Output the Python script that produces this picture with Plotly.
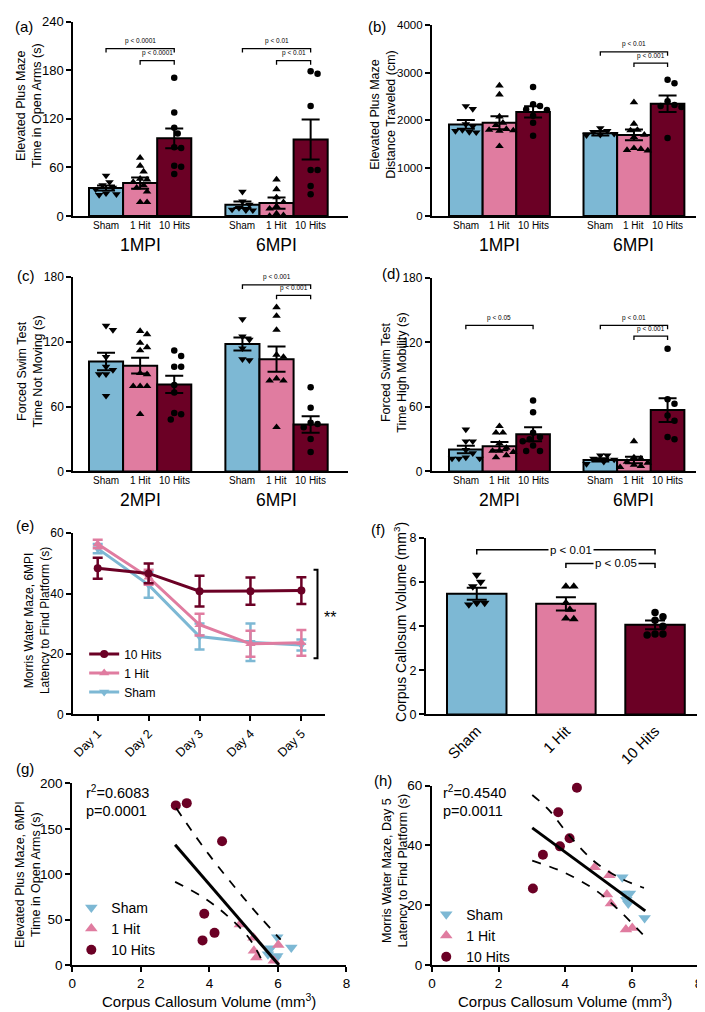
import plotly.graph_objects as go

W, H = 705, 1012
FONT = "Arial, Liberation Sans, Helvetica, sans-serif"
BLACK = "black"
GROUPS = ["Sham", "1 Hit", "10 Hits"]
COLORS = ["#7db8d4", "#e07ca0", "#6b0025"]
SYMBOLS = ["triangle-down", "triangle-up", "circle"]

# ---------------- DATA ----------------
# (a) Elevated Plus Maze - time in open arms (s)
a_periods = ["1MPI", "6MPI"]
a_mean_sham = [34.6, 14.0]
a_mean_hit1 = [40.7, 16.0]
a_mean_hit10 = [96.0, 94.6]
a_sem_sham = [3.0, 4.0]
a_sem_hit1 = [7.0, 7.0]
a_sem_hit10 = [12.2, 24.8]
a_pts_sham = [[50, 42, 38, 35, 33, 28, 27, 26], [30, 18, 14, 10, 8, 7, 7]]
a_pts_hit1 = [[72, 62, 55, 46, 45, 42, 38, 35, 30, 17, 17], [45, 33, 23, 17, 12, 9, 3, 1, 0]]
a_pts_hit10 = [[171, 128, 109, 102, 85, 84, 62, 61, 52], [179, 176, 136, 57, 57, 37, 27]]
a_brackets = [(0, 0, 2, 207, "p < 0.0001"), (0, 1, 2, 192, "p < 0.0001"),
              (1, 0, 2, 207, "p < 0.01"), (1, 1, 2, 192, "p < 0.01")]

# (b) Elevated Plus Maze - distance traveled (cm)
b_periods = ["1MPI", "6MPI"]
b_mean_sham = [1917, 1731]
b_mean_hit1 = [1951, 1697]
b_mean_hit10 = [2178, 2349]
b_sem_sham = [93, 45]
b_sem_hit1 = [135, 113]
b_sem_hit10 = [117, 172]
b_pts_sham = [[2300, 2240, 1920, 1880, 1800, 1780, 1760, 1750], [1840, 1780, 1760, 1720, 1690, 1700]]
b_pts_hit1 = [[2730, 2540, 2080, 1950, 1900, 1820, 1800, 1790, 1780, 1460],
              [2380, 1930, 1800, 1790, 1700, 1650, 1420, 1400, 1380, 1370]]
b_pts_hit10 = [[2700, 2340, 2300, 2230, 2220, 2100, 1950, 1680], [2850, 2780, 2400, 2320, 2300, 2280, 1630]]
b_brackets = [(1, 0, 2, 3435, "p < 0.01"), (1, 1, 2, 3201, "p < 0.001")]

# (c) Forced swim test - time not moving (s)
c_periods = ["2MPI", "6MPI"]
c_mean_sham = [101.9, 118.0]
c_mean_hit1 = [97.9, 104.0]
c_mean_hit10 = [80.6, 43.5]
c_sem_sham = [8.1, 6.0]
c_sem_hit1 = [7.3, 11.7]
c_sem_hit10 = [8.0, 7.6]
c_pts_sham = [[135, 131, 106, 97, 94, 90, 90, 70], [141, 125, 122, 114, 104, 103]]
c_pts_hit1 = [[130, 127, 119, 115, 112, 91, 90, 79, 79, 79, 53], [152, 144, 131, 108, 106, 86, 84, 84, 41]]
c_pts_hit10 = [[112, 107, 97, 97, 80, 73, 54, 53, 48], [78, 59, 45, 44, 41, 30, 18]]
c_brackets = [(1, 0, 2, 172.7, "p < 0.001"), (1, 1, 2, 163, "p < 0.001")]

# (d) Forced swim test - time high mobility (s)
d_periods = ["2MPI", "6MPI"]
d_mean_sham = [20.4, 10.7]
d_mean_hit1 = [23.5, 10.7]
d_mean_hit10 = [34.5, 57.0]
d_sem_sham = [3.5, 1.5]
d_sem_hit1 = [3.8, 3.0]
d_sem_hit10 = [6.5, 11.0]
d_pts_sham = [[39, 28, 28, 20, 17, 13, 12, 12, 12], [15, 15, 12, 11, 9, 7]]
d_pts_hit1 = [[42, 36, 36, 26, 22, 19, 19, 18, 15, 13], [28, 13, 12, 9, 8, 6, 5, 4]]
d_pts_hit10 = [[66, 55, 36, 32, 30, 28, 24, 19, 19], [114, 67, 63, 52, 47, 32, 30]]
d_brackets = [(0, 0, 2, 135.8, "p < 0.05"), (1, 0, 2, 135.8, "p < 0.01"), (1, 1, 2, 125.7, "p < 0.001")]

# (e) Morris water maze 6MPI - latency (s)
e_days = ["Day 1", "Day 2", "Day 3", "Day 4", "Day 5"]
e_mean_sham = [54.9, 42.9, 25.8, 23.9, 23.0]
e_sem_sham = [1.5, 4.3, 4.3, 6.2, 1.8]
e_mean_hit1 = [56.4, 45.4, 29.7, 23.4, 23.7]
e_sem_hit1 = [1.4, 2.5, 3.6, 4.3, 4.3]
e_mean_hit10 = [48.4, 46.7, 40.8, 40.8, 41.0]
e_sem_hit10 = [3.5, 3.3, 5.1, 4.5, 4.4]

# (f) Corpus callosum volume (mm3)
f_mean = [5.47, 5.01, 4.06]
f_sem = [0.27, 0.30, 0.20]
f_pts_sham = [6.32, 6.0, 5.8, 5.05, 4.98, 5.05]
f_pts_hit1 = [5.8, 5.8, 5.05, 4.75, 4.35, 4.32]
f_pts_hit10 = [4.62, 4.43, 4.27, 4.0, 3.65, 3.64, 3.6]
f_brackets = [(0, 2, 7.46, "p < 0.01"), (1, 2, 6.84, "p < 0.05")]

# (g) CC volume vs EPM open-arm time
g_sham_x = [5.98, 5.79, 5.71, 5.98, 6.39, 5.93]
g_sham_y = [30.7, 18.4, 11.9, 10.0, 19.2, 6.5]
g_hit1_x = [4.89, 5.29, 5.30, 5.37, 6.01, 5.88]
g_hit1_y = [44.5, 30.0, 15.6, 8.3, 22.0, 4.7]
g_hit10_x = [3.02, 3.34, 4.37, 3.85, 3.80, 4.15]
g_hit10_y = [175.8, 178.3, 136.3, 56.4, 27.1, 35.4]
g_fit_x = [3.0, 6.03]
g_fit_y = [132.4, 0.0]
g_up_x = [3.03, 3.5, 4.0, 4.5, 5.0, 5.5, 6.08]
g_up_y = [173, 147, 121, 97, 74, 52, 28]
g_lo_x = [3.0, 3.8, 4.5, 5.15, 5.6]
g_lo_y = [91.6, 75, 55, 30, 0]
g_stats = ["r<sup>2</sup>=0.6083", "p=0.0001"]

# (h) CC volume vs MWM day-5 latency
h_sham_x = [5.71, 5.76, 5.94, 5.83, 5.89, 6.38]
h_sham_y = [29.4, 23.9, 23.9, 21.8, 20.6, 15.7]
h_hit1_x = [4.88, 5.32, 5.25, 5.37, 5.82, 6.01]
h_hit1_y = [32.7, 30.0, 23.6, 20.6, 11.9, 12.4]
h_hit10_x = [4.35, 3.79, 4.13, 3.84, 3.33, 3.03]
h_hit10_y = [59.3, 51.1, 42.4, 39.7, 36.9, 25.6]
h_fit_x = [3.01, 6.4]
h_fit_y = [45.9, 18.1]
h_up_x = [3.01, 3.5, 4.13, 4.9, 5.68, 6.36]
h_up_y = [56.9, 52, 43.2, 34.4, 28.9, 25.8]
h_lo_x = [3.01, 3.94, 4.9, 5.5, 6.37]
h_lo_y = [34.9, 31.1, 25.1, 19.5, 9.7]
h_stats = ["r<sup>2</sup>=0.4540", "p=0.0011"]

# ---------------- FIGURE ----------------
fig = go.Figure()
layout = {}
annotations = []
shapes = []


def pyp(p):
    return 1 - p / H


def pxp(p):
    return p / W


def names(n):
    if n == 1:
        return "x", "y", "xaxis", "yaxis"
    return f"x{n}", f"y{n}", f"xaxis{n}", f"yaxis{n}"


def make_axes(n, xdom, ydom, xr, yr, yticks, yfs, xkw=None):
    xn, yn, xa, ya = names(n)
    base = dict(showline=True, linecolor=BLACK, linewidth=2, showgrid=False, zeroline=False,
                ticks="outside", ticklen=5, tickwidth=2, tickcolor=BLACK, fixedrange=True)
    xd = dict(base, domain=[pxp(xdom[0]), pxp(xdom[1])], range=xr, anchor=yn,
              tickfont=dict(family=FONT, color=BLACK, size=12))
    yd = dict(base, domain=[pyp(ydom[1]), pyp(ydom[0])], range=yr, anchor=xn, tickvals=yticks,
              tickfont=dict(family=FONT, color=BLACK, size=yfs))
    if xkw:
        xd.update(xkw)
    layout[xa] = xd
    layout[ya] = yd


def text(t, x, y, size, xref="paper", angle=0, xanchor="center", yanchor="middle", **kw):
    annotations.append(dict(text=t, x=x, y=y, xref=xref, yref="paper", showarrow=False,
                            textangle=angle, xanchor=xanchor, yanchor=yanchor,
                            font=dict(family=FONT, size=size, color=BLACK), **kw))


def swarm(vals, ypx, xpx, d, maxoff):
    placed = []
    res = [0.0] * len(vals)
    order = sorted(range(len(vals)), key=lambda i: -vals[i])
    cands = [0.0]
    for k in range(1, 14):
        cands += [k * d / 2, -k * d / 2]
    for i in order:
        y = vals[i] * ypx
        chosen = 0.0
        for c in cands:
            if abs(c) > maxoff:
                continue
            if all((c - a) ** 2 + (y - b) ** 2 >= (d * 0.95) ** 2 for a, b in placed):
                chosen = c
                break
        placed.append((chosen, y))
        res[i] = chosen / xpx
    return res


def bar_panel(n, xdom, ydom, xr, yr, yticks, yfs, means, sems, pts, periods, brackets,
              label_y, period_y):
    xn, yn, xa, ya = names(n)
    make_axes(n, xdom, ydom, xr, yr, yticks, yfs, xkw=dict(showticklabels=False, ticks=""))
    ypx = (ydom[1] - ydom[0]) / (yr[1] - yr[0])
    xpx = (xdom[1] - xdom[0]) / (xr[1] - xr[0])

    def pos(p, g):
        return 1 + g + 4 * p

    for g in range(3):
        xs = [pos(p, g) for p in range(len(periods))]
        fig.add_trace(go.Bar(x=xs, y=means[g], width=1, xaxis=xn, yaxis=yn,
                             marker=dict(color=COLORS[g], line=dict(color=BLACK, width=2)),
                             error_y=dict(type="data", array=sems[g], color=BLACK, thickness=2, width=9),
                             showlegend=False, hoverinfo="skip"))
    for g in range(3):
        xs, ys = [], []
        for p in range(len(periods)):
            offs = swarm(pts[g][p], ypx, xpx, 7.0, 14)
            xs += [pos(p, g) + o for o in offs]
            ys += pts[g][p]
        fig.add_trace(go.Scatter(x=xs, y=ys, xaxis=xn, yaxis=yn, mode="markers", cliponaxis=False,
                                 marker=dict(symbol=SYMBOLS[g], size=7.5 if g < 2 else 6.5, color=BLACK,
                                             line=dict(width=0)),
                                 showlegend=False, hoverinfo="skip"))
    for p in range(len(periods)):
        for g in range(3):
            text(GROUPS[g], pos(p, g), pyp(label_y), 10, xref=xn)
        text(periods[p], pos(p, 1), pyp(period_y), 17.5, xref=xn)
    drop = 4.0 / ypx
    for (p, g1, g2, yv, lab) in brackets:
        x1, x2 = pos(p, g1), pos(p, g2)
        shapes.append(dict(type="path", xref=xn, yref=yn,
                           path=f"M {x1},{yv - drop} L {x1},{yv} L {x2},{yv} L {x2},{yv - drop}",
                           line=dict(color=BLACK, width=1.3)))
        annotations.append(dict(text=lab, x=(x1 + x2) / 2, y=yv + 1.5 / ypx, xref=xn, yref=yn,
                                showarrow=False, yanchor="bottom",
                                font=dict(family=FONT, size=6.5, color=BLACK)))


bar_panel(1, (62, 340), (7, 204), [0.04, 8.1], [0, 240], [0, 60, 120, 180, 240], 13,
          [a_mean_sham, a_mean_hit1, a_mean_hit10], [a_sem_sham, a_sem_hit1, a_sem_hit10],
          [a_pts_sham, a_pts_hit1, a_pts_hit10], a_periods, a_brackets, 214, 233)
bar_panel(2, (424.7, 692), (10, 204), [-0.01, 7.85], [0, 4000], [0, 1000, 2000, 3000, 4000], 11.5,
          [b_mean_sham, b_mean_hit1, b_mean_hit10], [b_sem_sham, b_sem_hit1, b_sem_hit10],
          [b_pts_sham, b_pts_hit1, b_pts_hit10], b_periods, b_brackets, 214, 233)
bar_panel(3, (62, 340), (266, 463.3), [0.04, 8.1], [0, 180], [0, 60, 120, 180], 12,
          [c_mean_sham, c_mean_hit1, c_mean_hit10], [c_sem_sham, c_sem_hit1, c_sem_hit10],
          [c_pts_sham, c_pts_hit1, c_pts_hit10], c_periods, c_brackets, 473, 492)
bar_panel(4, (424.7, 692), (266.7, 463.3), [-0.01, 7.85], [0, 180], [0, 60, 120, 180], 12,
          [d_mean_sham, d_mean_hit1, d_mean_hit10], [d_sem_sham, d_sem_hit1, d_sem_hit10],
          [d_pts_sham, d_pts_hit1, d_pts_hit10], d_periods, d_brackets, 473, 492)

# ---- (e) ----
make_axes(5, (61.7, 316.7), (526, 710), [-0.485, 4.466], [0, 60], [0, 20, 40, 60], 12,
          xkw=dict(type="category", tickangle=-45, tickfont=dict(family=FONT, color=BLACK, size=12.5)))
for g, (m, s) in enumerate([(e_mean_sham, e_sem_sham), (e_mean_hit1, e_sem_hit1), (e_mean_hit10, e_sem_hit10)]):
    fig.add_trace(go.Scatter(x=e_days, y=m, xaxis="x5", yaxis="y5", mode="lines+markers", name=GROUPS[g],
                             line=dict(color=COLORS[g], width=3),
                             marker=dict(symbol=SYMBOLS[g], size=9 if g < 2 else 8, color=COLORS[g]),
                             error_y=dict(type="data", array=s, color=COLORS[g], thickness=2.5, width=5),
                             legend="legend", cliponaxis=False, hoverinfo="skip"))
shapes.append(dict(type="path", xref="paper", yref="paper",
                   path=f"M {pxp(305)},{pyp(563)} L {pxp(309)},{pyp(563)} L {pxp(309)},{pyp(653)} L {pxp(305)},{pyp(653)}",
                   line=dict(color=BLACK, width=2)))
text("**", pxp(322), pyp(612), 16)

# ---- (f) ----
make_axes(6, (418.7, 693.7), (530.7, 710), [-0.57, 2.48], [0, 8], [0, 2, 4, 6, 8], 12.5,
          xkw=dict(tickvals=[0, 1, 2], ticktext=GROUPS, tickangle=-45, ticks="",
                   tickfont=dict(family=FONT, color=BLACK, size=15)))
fig.add_trace(go.Bar(x=[0, 1, 2], y=f_mean, width=0.667, xaxis="x6", yaxis="y6",
                     marker=dict(color=COLORS, line=dict(color=BLACK, width=2)),
                     error_y=dict(type="data", array=f_sem, color=BLACK, thickness=2, width=10),
                     showlegend=False, hoverinfo="skip"))
f_ypx = (710 - 530.7) / 8
f_xpx = (693.7 - 418.7) / (2.48 + 0.57)
for g, pts in enumerate([f_pts_sham, f_pts_hit1, f_pts_hit10]):
    offs = swarm(pts, f_ypx, f_xpx, 8.0, 22)
    fig.add_trace(go.Scatter(x=[g + o for o in offs], y=pts, xaxis="x6", yaxis="y6", mode="markers",
                             marker=dict(symbol=SYMBOLS[g], size=8.5 if g < 2 else 7.5, color=BLACK),
                             showlegend=False, hoverinfo="skip", cliponaxis=False))
for (g1, g2, yv, lab) in f_brackets:
    drop = 4.7 / f_ypx
    shapes.append(dict(type="path", xref="x6", yref="y6",
                       path=f"M {g1},{yv - drop} L {g1},{yv} L {g2},{yv} L {g2},{yv - drop}",
                       line=dict(color=BLACK, width=1.5)))
    annotations.append(dict(text=lab, x=(g1 + g2) / 2 + 0.06, y=yv, xref="x6", yref="y6", showarrow=False,
                            bgcolor="white", borderpad=1,
                            font=dict(family=FONT, size=11.5, color=BLACK)))


# ---- (g), (h) ----
def scatter_panel(n, xdom, ydom, yr, yticks, series, fit, up, lo, stats, stats_xy, legend_name):
    xn, yn, xa, ya = names(n)
    make_axes(n, xdom, ydom, [0, 8], yr, yticks, 13.5,
              xkw=dict(tickvals=[0, 2, 4, 6, 8], tickfont=dict(family=FONT, color=BLACK, size=13.5)))
    for g, (sx, sy) in enumerate(series):
        fig.add_trace(go.Scatter(x=sx, y=sy, xaxis=xn, yaxis=yn, mode="markers", name=GROUPS[g],
                                 marker=dict(symbol=SYMBOLS[g], size=11 if g < 2 else 10, color=COLORS[g]),
                                 legend=legend_name, cliponaxis=False, hoverinfo="skip"))
    for (lx, ly), dash, wd in [(fit, "solid", 3), (up, "dash", 1.8), (lo, "dash", 1.8)]:
        fig.add_trace(go.Scatter(x=lx, y=ly, xaxis=xn, yaxis=yn, mode="lines",
                                 line=dict(color=BLACK, width=wd, dash=dash, shape="spline"),
                                 showlegend=False, hoverinfo="skip"))
    text(stats[0], pxp(stats_xy[0]), pyp(stats_xy[1]), 14.5, xanchor="left")
    text(stats[1], pxp(stats_xy[0]), pyp(stats_xy[1] + 19), 14.5, xanchor="left")
    text("Corpus Callosum Volume (mm<sup>3</sup>)", pxp((xdom[0] + xdom[1]) / 2), pyp(1000), 15)


scatter_panel(7, (61, 338.3), (780, 964.3), [0, 200], [0, 50, 100, 150, 200],
              [(g_sham_x, g_sham_y), (g_hit1_x, g_hit1_y), (g_hit10_x, g_hit10_y)],
              (g_fit_x, g_fit_y), (g_up_x, g_up_y), (g_lo_x, g_lo_y), g_stats, (73, 789), "legend2")
scatter_panel(8, (424.7, 694.5), (782.3, 964.3), [0, 60], [0, 20, 40, 60],
              [(h_sham_x, h_sham_y), (h_hit1_x, h_hit1_y), (h_hit10_x, h_hit10_y)],
              (h_fit_x, h_fit_y), (h_up_x, h_up_y), (h_lo_x, h_lo_y), h_stats, (434, 789), "legend3")

# ---- axis titles and panel letters ----
titles = [
    ("Elevated Plus Maze<br>Time in Open Arms (s)", 16.5, 92, 12.5),
    ("Elevated Plus Maze<br>Distance Traveled (cm)", 374.5, 101, 12.5),
    ("Forced Swim Test<br>Time Not Moving (s)", 18, 362, 12.5),
    ("Forced Swim Test<br>Time High Mobility (s)", 385.5, 363, 12.5),
    ("Morris Water Maze, 6MPI<br>Latency to Find Platform (s)", 25.5, 615, 12),
    ("Corpus Callosum Volume (mm<sup>3</sup>)", 392.5, 616, 14),
    ("Elevated Plus Maze, 6MPI<br>Time in Open Arms (s)", 16, 872, 12.5),
    ("Morris Water Maze, Day 5<br>Latency to Find Platform (s)", 387.7, 868, 12.5),
]
for t, x, y, fs in titles:
    text(t, pxp(x), pyp(y), fs, angle=-90)

letters = [("(a)", 12, 12), ("(b)", 369, 12), ("(c)", 14, 264), ("(d)", 383, 262),
           ("(e)", 13, 518), ("(f)", 370, 522), ("(g)", 13, 765), ("(h)", 375, 777)]
for t, x, y in letters:
    text(t, pxp(x), pyp(y), 15)

legend_common = dict(xanchor="left", yanchor="top", bgcolor="rgba(0,0,0,0)", borderwidth=0,
                     itemwidth=30, tracegroupgap=0)
layout["legend"] = dict(legend_common, x=pxp(73), y=pyp(634), traceorder="reversed",
                        font=dict(family=FONT, size=12, color=BLACK))
layout["legend2"] = dict(legend_common, x=pxp(60), y=pyp(890), traceorder="normal",
                         font=dict(family=FONT, size=14, color=BLACK))
layout["legend3"] = dict(legend_common, x=pxp(419), y=pyp(897), traceorder="normal",
                         font=dict(family=FONT, size=14, color=BLACK))

fig.update_layout(**layout)
fig.update_layout(width=W, height=H, margin=dict(l=0, r=0, t=0, b=0), paper_bgcolor="white",
                  plot_bgcolor="white", barmode="overlay", annotations=annotations, shapes=shapes,
                  font=dict(family=FONT, color=BLACK))
fig.write_html("out.html")
